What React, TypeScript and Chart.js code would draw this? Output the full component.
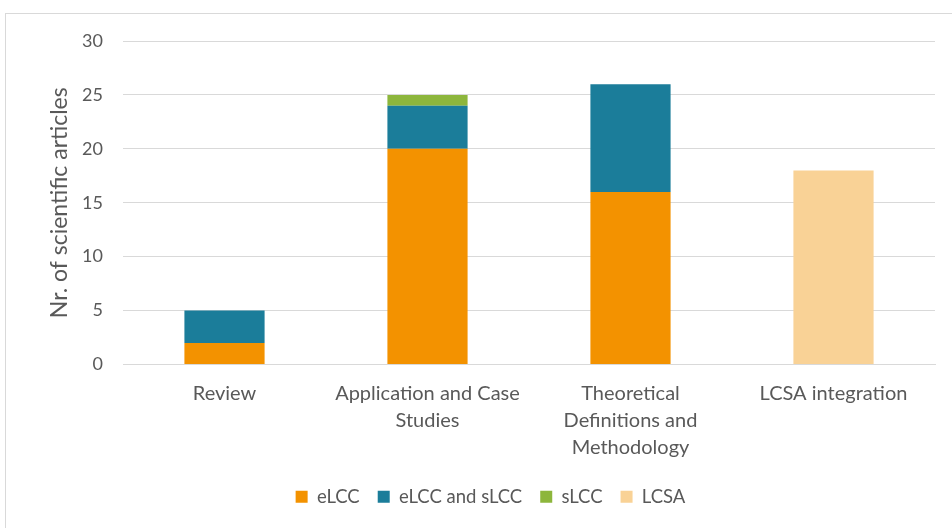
import React, { useEffect, useRef } from "react";
import { Chart, registerables } from "chart.js";

Chart.register(...registerables);

const categories: (string | string[])[] = [
  "Review",
  ["Application and Case", "Studies"],
  ["Theoretical", "Definitions and", "Methodology"],
  "LCSA integration",
];
const eLCC = [2, 20, 16, 0];
const eLCCandSLCC = [3, 4, 10, 0];
const sLCC = [0, 1, 0, 0];
const LCSA = [0, 0, 0, 18];
const yTicks = [0, 5, 10, 15, 20, 25, 30];

const FONT = "Lato, 'Open Sans', sans-serif";
const TEXT = "#595959";

export default function App() {
  const ref = useRef<HTMLCanvasElement | null>(null);

  useEffect(() => {
    if (!ref.current) return;
    const chart = new Chart(ref.current, {
      type: "bar",
      data: {
        labels: categories,
        datasets: [
          { label: "eLCC", data: eLCC, backgroundColor: "#F39200" },
          { label: "eLCC and sLCC", data: eLCCandSLCC, backgroundColor: "#1B7D9A" },
          { label: "sLCC", data: sLCC, backgroundColor: "#8DB63C" },
          { label: "LCSA", data: LCSA, backgroundColor: "#F9D296" },
        ],
      },
      options: {
        animation: false,
        responsive: false,
        devicePixelRatio: 1,
        layout: { padding: { left: 46, right: 17, top: 41, bottom: 12 } },
        datasets: { bar: { categoryPercentage: 1, barPercentage: 0.395 } },
        plugins: {
          tooltip: { enabled: false },
          legend: {
            position: "bottom",
            labels: {
              boxWidth: 12,
              boxHeight: 12,
              padding: 18,
              color: TEXT,
              font: { family: FONT, size: 18.5 },
            },
          },
        },
        scales: {
          x: {
            stacked: true,
            grid: { display: false, drawTicks: false },
            border: { display: true, color: "#d9d9d9" },
            ticks: {
              color: TEXT,
              padding: 16,
              maxRotation: 0,
              autoSkip: false,
              font: { family: FONT, size: 20, lineHeight: 1.35 },
            },
            afterFit: (s: any) => {
              s.height = 105;
            },
          },
          y: {
            stacked: true,
            min: 0,
            max: 30,
            afterBuildTicks: (s: any) => {
              s.ticks = yTicks.map((v) => ({ value: v }));
            },
            grid: { color: "#d9d9d9", drawTicks: false },
            border: { display: false },
            ticks: {
              color: TEXT,
              padding: 20,
              font: { family: FONT, size: 18 },
            },
            title: {
              display: true,
              text: "Nr. of scientific articles",
              color: TEXT,
              padding: 0,
              font: { family: FONT, size: 23 },
            },
            afterFit: (s: any) => {
              s.width = 77;
            },
          },
        },
      },
    });
    return () => chart.destroy();
  }, []);

  return (
    <div style={{ position: "fixed", left: 0, top: 0, width: 952, height: 528, background: "#fff" }}>
      <div
        style={{
          position: "absolute",
          left: 5,
          top: 13,
          width: 960,
          height: 540,
          borderLeft: "1px solid #d9d9d9",
          borderTop: "1px solid #d9d9d9",
        }}
      />
      <canvas ref={ref} width={952} height={528} style={{ position: "absolute", left: 0, top: 0 }} />
    </div>
  );
}
